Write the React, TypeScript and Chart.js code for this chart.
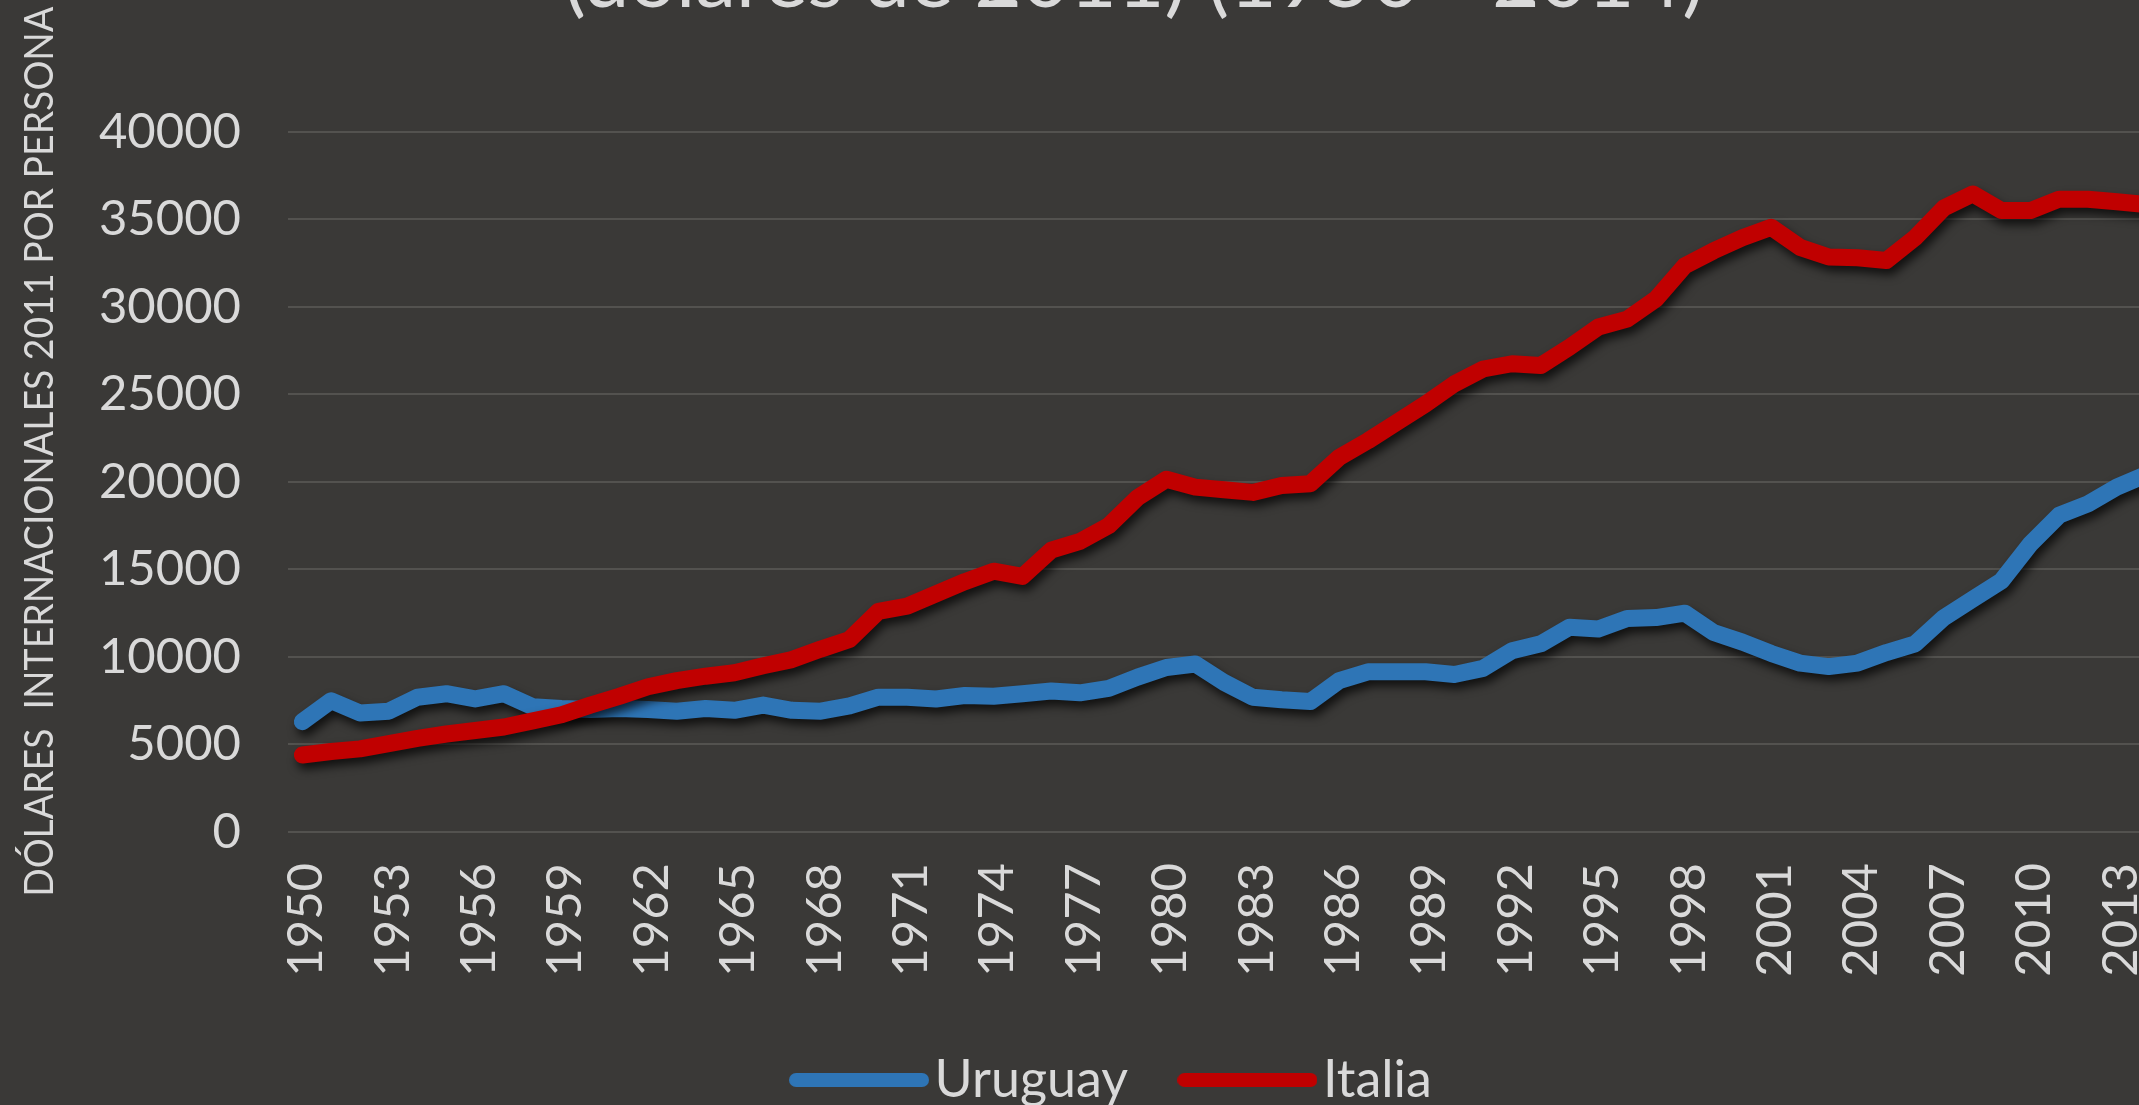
import React, { useEffect, useRef } from 'react';
import { Chart, registerables } from 'chart.js';

Chart.register(...registerables);

const years = [
  '1950', '1951', '1952', '1953', '1954', '1955', '1956', '1957', '1958', '1959',
  '1960', '1961', '1962', '1963', '1964', '1965', '1966', '1967', '1968', '1969',
  '1970', '1971', '1972', '1973', '1974', '1975', '1976', '1977', '1978', '1979',
  '1980', '1981', '1982', '1983', '1984', '1985', '1986', '1987', '1988', '1989',
  '1990', '1991', '1992', '1993', '1994', '1995', '1996', '1997', '1998', '1999',
  '2000', '2001', '2002', '2003', '2004', '2005', '2006', '2007', '2008', '2009',
  '2010', '2011', '2012', '2013', '2014',
];

const uruguay = [
  6300, 7500, 6800, 6900, 7700, 7900, 7600, 7900, 7150, 7050,
  7000, 7050, 7000, 6900, 7050, 6950, 7250, 6950, 6900, 7200,
  7700, 7700, 7600, 7800, 7750, 7900, 8050, 7950, 8200, 8850,
  9400, 9600, 8550, 7700, 7550, 7450, 8650, 9150, 9150, 9150,
  9000, 9350, 10350, 10750, 11700, 11600, 12200, 12250, 12500, 11400,
  10850, 10200, 9650, 9450, 9650, 10250, 10750, 12250, 13300, 14350,
  16450, 18100, 18750, 19700, 20400,
];

const italia = [
  4400, 4600, 4750, 5050, 5350, 5600, 5800, 6000, 6350, 6700,
  7250, 7750, 8300, 8650, 8900, 9100, 9500, 9850, 10450, 11000,
  12600, 12900, 13600, 14300, 14900, 14600, 16100, 16600, 17500, 19100,
  20150, 19700, 19550, 19400, 19800, 19900, 21400, 22350, 23400, 24450,
  25600, 26450, 26750, 26650, 27700, 28850, 29300, 30450, 32350, 33200,
  33950, 34550, 33400, 32850, 32800, 32650, 33950, 35650, 36450, 35500,
  35500, 36150, 36150, 36000, 35850,
];

const seriesNames = ['Uruguay', 'Italia'];
const seriesColors = ['#2e75b6', '#c00000'];
const titleLines = ['PIB per cápita de Uruguay e Italia', '(dólares de 2011) (1950 - 2014)'];
const yAxisTitle = 'DÓLARES  INTERNACIONALES 2011 POR PERSONA';
const yMin = 0;
const yMax = 40000;
const yStep = 5000;
const xLabelEvery = 3;

const BG = '#3a3937';
const TEXT = '#d9d9d9';
const GRID = '#53524f';
const FONT = 'Lato';

const W = 2268;
const C = 167;
const H = C + 1116;

function legendSwatch(color: string) {
  const c = document.createElement('canvas');
  c.width = 140;
  c.height = 14;
  const g = c.getContext('2d')!;
  g.fillStyle = color;
  g.beginPath();
  (g as any).roundRect(0, 0, 140, 14, 7);
  g.fill();
  return c;
}

export default function App() {
  const ref = useRef<HTMLCanvasElement | null>(null);

  useEffect(() => {
    const canvas = ref.current;
    if (!canvas) return;

    const shadowPlugin = {
      id: 'lineShadow',
      beforeDatasetDraw(chart: any) {
        const c = chart.ctx;
        c.save();
        c.shadowColor = 'rgba(0,0,0,0.7)';
        c.shadowBlur = 10;
        c.shadowOffsetX = 3;
        c.shadowOffsetY = 6;
      },
      afterDatasetDraw(chart: any) {
        chart.ctx.restore();
      },
    };

    const yTitlePlugin = {
      id: 'yTitle',
      afterDraw(chart: any) {
        const { ctx, chartArea } = chart;
        ctx.save();
        ctx.font = `40px ${FONT}`;
        ctx.fillStyle = TEXT;
        ctx.translate(chartArea.left - 248, chartArea.top + 320);
        ctx.rotate(-Math.PI / 2);
        const w = ctx.measureText(yAxisTitle).width;
        ctx.scale(890 / w, 1);
        ctx.textAlign = 'center';
        ctx.textBaseline = 'middle';
        ctx.fillText(yAxisTitle, 0, 0);
        ctx.restore();
      },
    };

    const chart = new Chart(canvas, {
      type: 'line',
      data: {
        labels: years,
        datasets: [
          {
            label: seriesNames[0],
            data: uruguay,
            borderColor: seriesColors[0],
            backgroundColor: seriesColors[0],
            borderWidth: 17,
            pointRadius: 0,
            tension: 0,
            borderJoinStyle: 'round',
            borderCapStyle: 'round',
            order: 1,
          },
          {
            label: seriesNames[1],
            data: italia,
            borderColor: seriesColors[1],
            backgroundColor: seriesColors[1],
            borderWidth: 17,
            pointRadius: 0,
            tension: 0,
            borderJoinStyle: 'round',
            borderCapStyle: 'round',
            order: 0,
          },
        ],
      },
      options: {
        animation: false,
        responsive: false,
        maintainAspectRatio: false,
        layout: { padding: 0 },
        events: [],
        plugins: {
          title: {
            display: true,
            text: titleLines,
            color: TEXT,
            font: { family: FONT, size: 82, weight: 'normal', lineHeight: 1.2 },
            padding: { top: 0, bottom: 102 },
          },
          legend: {
            position: 'bottom',
            labels: {
              color: TEXT,
              font: { family: FONT, size: 52 },
              usePointStyle: true,
              pointStyleWidth: 99,
              boxHeight: 14,
              padding: 70,
              generateLabels: (ch: any) =>
                ch.data.datasets.map((ds: any, i: number) => ({
                  text: i === ch.data.datasets.length - 1 ? ds.label + '  ' : ds.label,
                  fillStyle: ds.borderColor,
                  strokeStyle: ds.borderColor,
                  lineWidth: 0,
                  hidden: false,
                  datasetIndex: i,
                  pointStyle: legendSwatch(ds.borderColor),
                  rotation: 0,
                  fontColor: TEXT,
                })),
            },
          },
          tooltip: { enabled: false },
        },
        scales: {
          x: {
            offset: true,
            grid: { display: false, drawTicks: false },
            border: { display: false },
            ticks: {
              autoSkip: false,
              minRotation: 90,
              maxRotation: 90,
              padding: 31,
              labelOffset: 4,
              color: TEXT,
              font: { family: FONT, size: 49 },
              callback: (_v: any, i: number) => (i % xLabelEvery === 0 ? years[i] : null),
            },
            afterFit: (s: any) => {
              s.height = 152;
            },
          },
          y: {
            min: yMin,
            max: yMax,
            grid: { color: GRID, lineWidth: 2, drawTicks: false },
            border: { display: false },
            ticks: {
              stepSize: yStep,
              padding: 47,
              color: TEXT,
              font: { family: FONT, size: 49 },
              callback: (v: any) => String(v),
            },
            afterFit: (s: any) => {
              s.width = 288;
            },
          },
          yRight: {
            position: 'right',
            display: true,
            grid: { display: false, drawTicks: false },
            border: { display: false },
            ticks: { display: false },
            afterFit: (s: any) => {
              s.width = 108;
            },
          },
        },
      },
      plugins: [shadowPlugin, yTitlePlugin],
    } as any);

    return () => {
      chart.destroy();
    };
  }, []);

  return (
    <div
      style={{
        position: 'fixed',
        left: 0,
        top: 0,
        width: '100vw',
        height: '100vh',
        overflow: 'hidden',
        background: BG,
      }}
    >
      <canvas
        ref={ref}
        width={W}
        height={H}
        style={{ position: 'absolute', left: 0, top: -C, width: W, height: H }}
      />
    </div>
  );
}
